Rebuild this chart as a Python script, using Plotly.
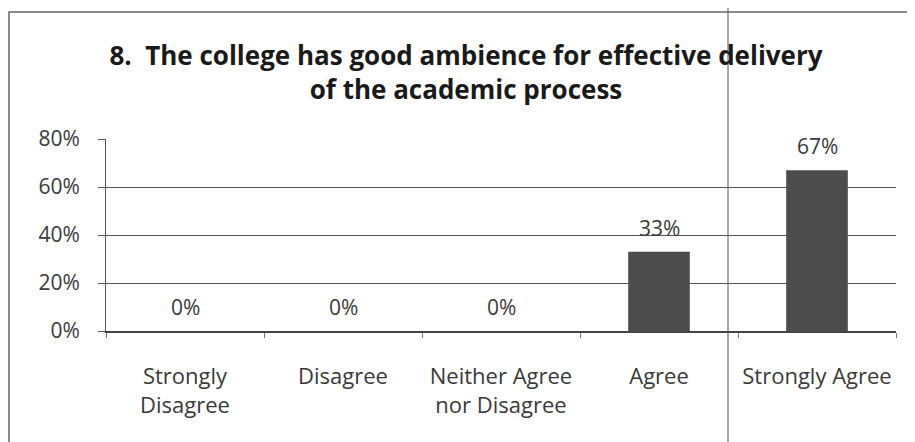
import plotly.graph_objects as go

categories = ["Strongly<br>Disagree", "Disagree", "Neither Agree<br>nor Disagree", "Agree", "Strongly Agree"]
values = [0, 0, 0, 33, 67]
labels = ["0%", "0%", "0%", "33%", "67%"]
y_ticks = [0, 20, 40, 60, 80]
y_tick_text = ["0%", "20%", "40%", "60%", "80%"]
title_text = "8.  The college has good ambience for effective delivery<br>of the academic process"

FONT = "Open Sans"
W, H = 907, 434
L, T, PW, PH = 98, 131, 790, 192

fig = go.Figure(
    go.Bar(
        x=categories,
        y=values,
        marker=dict(color="#4c4c4c", line=dict(width=0)),
        width=0.39,
        cliponaxis=False,
    )
)

for c, v, t in zip(categories, values, labels):
    fig.add_annotation(x=c, y=v, text=t, showarrow=False, yanchor="bottom",
                       yshift=8, font=dict(family=FONT, size=21, color="#3a3a3a"))

fig.update_layout(
    width=W,
    height=H,
    margin=dict(l=L, r=W - L - PW, t=T, b=H - T - PH, autoexpand=False),
    paper_bgcolor="white",
    plot_bgcolor="white",
    showlegend=False,
    title=dict(
        text=title_text,
        x=458 / W,
        xanchor="center",
        y=1 - 57 / H,
        yanchor="middle",
        font=dict(family=FONT, size=26, color="#1a1a1a", weight="bold"),
    ),
)

fig.update_yaxes(
    range=[0, 80],
    tickvals=y_ticks,
    ticktext=y_tick_text,
    showgrid=True,
    gridcolor="#555555",
    gridwidth=1,
    showline=True,
    linecolor="#555555",
    ticks="outside",
    ticklen=7,
    tickcolor="#555555",
    tickfont=dict(family=FONT, size=21, color="#3a3a3a"),
    ticklabelstandoff=14,
    zeroline=False,
    automargin=False,
)

fig.update_xaxes(
    showline=True,
    linecolor="#444",
    linewidth=1.5,
    ticks="outside",
    tickson="boundaries",
    ticklen=5,
    tickcolor="#777",
    tickangle=0,
    tickfont=dict(family=FONT, size=22, color="#3a3a3a"),
    ticklabelstandoff=25,
    automargin=False,
)

# outer frame of the scanned chart
fig.add_shape(type="rect", xref="paper", yref="paper",
              x0=(1 - L) / PW, x1=(930 - L) / PW, y0=(T + PH - 450) / PH, y1=(T + PH - 4) / PH,
              line=dict(color="#666", width=1.5), fillcolor="rgba(0,0,0,0)", layer="below")
# scan fold line
fig.add_shape(type="line", xref="paper", yref="paper",
              x0=(720 - L) / PW, x1=(720 - L) / PW, y0=(T + PH - 450) / PH, y1=(T + PH + 10) / PH,
              line=dict(color="#555", width=1))

fig.write_html("out.html")
